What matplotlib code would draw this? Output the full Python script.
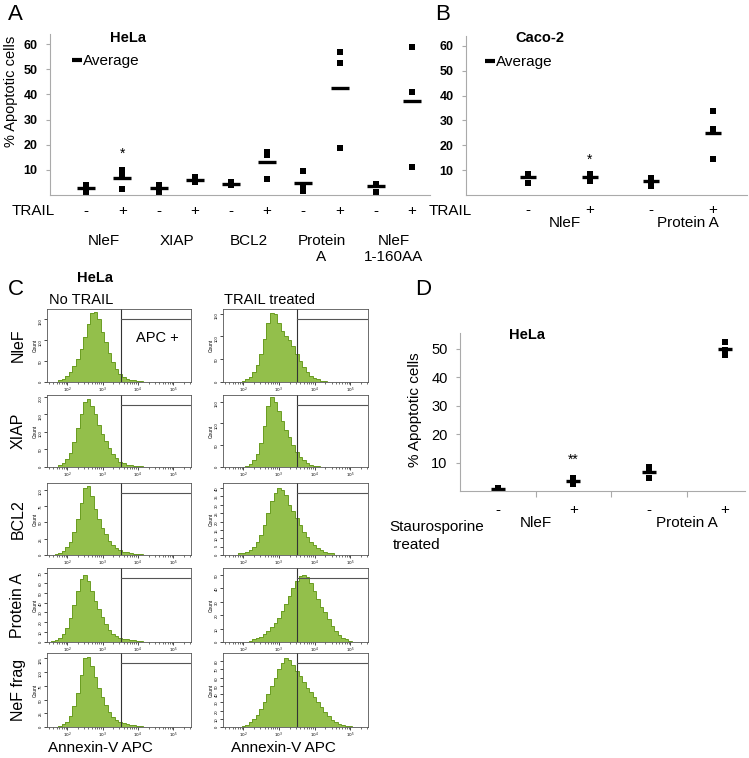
import numpy as np
import matplotlib.pyplot as plt
from matplotlib.lines import Line2D

plt.rcParams['font.family'] = ['Liberation Sans', 'DejaVu Sans']

W, H = 749, 758

# ---- panel A: HeLa, TRAIL ----
a_groups = ['NleF', 'XIAP', 'BCL2', 'Protein\nA', 'NleF\n1-160AA']
a_signs = ['-', '+'] * 5
a_rep1 = [4, 10, 4, 7, 5, 17, 9.5, 57, 4.5, 59]
a_rep2 = [3, 7.5, 3.5, 6, 4.5, 16, 3, 52.5, 4.5, 41]
a_rep3 = [1, 2.5, 1, 5, 4, 6.5, 1.5, 18.5, 1, 11]
a_avg = [2.8, 6.7, 2.9, 6.0, 4.5, 13.2, 4.7, 42.7, 3.4, 37.2]
a_star = [(1, '*', 16.5)]

# ---- panel B: Caco-2, TRAIL ----
b_groups = ['NleF', 'Protein A']
b_signs = ['-', '+', '-', '+']
b_rep1 = [8.5, 8.5, 7, 34]
b_rep2 = [8.5, 8, 6.5, 26.5]
b_rep3 = [5, 5.5, 3.5, 14.5]
b_avg = [7.3, 7.3, 5.7, 25.0]
b_star = [(1, '*', 14)]

# ---- panel D: HeLa, staurosporine ----
d_groups = ['NleF', 'Protein A']
d_signs = ['-', '+', '-', '+']
d_rep1 = [1.0, 4.6, 8.5, 52.5]
d_rep2 = [0.8, 3.5, 7.0, 49.5]
d_rep3 = [0.5, 2.6, 4.5, 48.0]
d_avg = [0.8, 3.5, 6.7, 50.0]
d_star = [(1, '**', 11)]

# ---- panel C: flow histograms (counts per 0.1-decade bin, first bin centre in log10) ----
c_rows = ['NleF', 'XIAP', 'BCL2', 'Protein A', 'NeF frag']
h_nlef_no = [1, 4, 8, 15, 25, 38, 55, 78, 108, 140, 165, 168, 150, 120, 95, 70, 48, 32, 20, 12, 8, 5, 4, 3, 2, 1, 1]
h_xiap_no = [1, 5, 12, 22, 40, 70, 110, 150, 185, 195, 175, 150, 120, 95, 75, 55, 38, 25, 15, 10, 7, 5, 4, 3, 2, 1]
h_bcl2_no = [1, 3, 6, 12, 20, 35, 55, 80, 102, 105, 90, 70, 55, 42, 32, 22, 15, 10, 7, 5, 4, 3, 2, 2, 1]
h_prota_no = [1, 2, 4, 8, 14, 24, 38, 52, 64, 68, 62, 52, 42, 33, 25, 18, 12, 8, 6, 4, 3, 3, 2, 2, 1, 1]
h_frag_no = [2, 5, 10, 20, 38, 62, 95, 125, 128, 112, 92, 72, 55, 40, 28, 18, 12, 9, 7, 5, 4, 3, 2, 1]
h_nlef_tr = [1, 3, 6, 12, 22, 38, 62, 95, 130, 152, 148, 130, 112, 100, 92, 78, 62, 45, 32, 22, 14, 9, 6, 3, 2, 1, 1]
h_xiap_tr = [1, 3, 8, 16, 30, 55, 95, 140, 160, 150, 128, 105, 85, 68, 50, 35, 24, 15, 9, 5, 3, 2, 1]
h_bcl2_tr = [1, 1, 2, 3, 5, 8, 12, 18, 25, 32, 37, 40, 39, 36, 30, 26, 22, 18, 14, 11, 8, 6, 4, 3, 2, 1, 1]
h_prota_tr = [1, 2, 3, 4, 6, 8, 11, 14, 18, 23, 28, 34, 40, 45, 49, 50, 48, 44, 38, 32, 26, 22, 17, 12, 8, 5, 3, 2, 1]
h_frag_tr = [1, 3, 6, 10, 15, 22, 30, 40, 50, 60, 70, 78, 84, 82, 75, 68, 62, 55, 48, 42, 36, 30, 24, 18, 13, 9, 6, 4, 2, 1, 1]
no_trail = [(1.7, h_nlef_no), (1.7, h_xiap_no), (1.7, h_bcl2_no), (1.6, h_prota_no), (1.8, h_frag_no)]
trail = [(1.9, h_nlef_tr), (2.0, h_xiap_tr), (1.9, h_bcl2_tr), (2.2, h_prota_tr), (2.0, h_frag_tr)]
no_ylim = [175, 205, 110, 75, 135]
tr_ylim = [160, 165, 43, 55, 90]
no_ystep = [50, 50, 25, 10, 25]
tr_ystep = [50, 50, 5, 10, 10]
gate_log = 3.52

fig = plt.figure(figsize=(W / 100, H / 100), dpi=100)


def box(l, t, r, b):
    return [l / W, 1 - b / H, (r - l) / W, (b - t) / H]


def ftext(x, y, s, **kw):
    kw.setdefault('ha', 'center')
    kw.setdefault('va', 'center')
    fig.text(x / W, 1 - y / H, s, **kw)


def dot_panel(r, reps, avg, ylim, xlim, ms, avg_ms, stars):
    ax = fig.add_axes(r)
    xs = np.arange(1, len(avg) + 1)
    for rep in reps:
        ax.plot(xs, rep, ls='none', marker='s', ms=ms, mew=0, color='black')
    ax.plot(xs, avg, ls='none', marker='_', ms=avg_ms, mew=2.4, color='black')
    for i, s, y in stars:
        ax.text(xs[i], y, s, ha='center', va='center', fontsize=10)
    ax.set_xlim(*xlim)
    ax.set_ylim(*ylim)
    for side in ['top', 'right']:
        ax.spines[side].set_visible(False)
    for side in ['left', 'bottom']:
        ax.spines[side].set_color('#aaaaaa')
        ax.spines[side].set_linewidth(0.8)
    ax.tick_params(axis='y', length=3, color='#aaaaaa', pad=6)
    ax.set_xticks([])
    return ax, xs


def sign_labels(ax, xs, signs, yfrac, size=11):
    for x, s in zip(xs, signs):
        ax.text(x, yfrac, s, transform=ax.get_xaxis_transform(), ha='center', va='center', fontsize=size)


def avg_legend(ax, x, y):
    h = Line2D([], [], color='black', lw=3, solid_capstyle='butt')
    ax.legend(handles=[h], labels=['Average'], loc='center left',
              bbox_to_anchor=(x / W, 1 - y / H), bbox_transform=fig.transFigure, frameon=False,
              handlelength=0.65, handletextpad=0.1, borderpad=0, borderaxespad=0, fontsize=11)


# ---------- A ----------
axA, xa = dot_panel(box(50, 34, 430, 195), [a_rep1, a_rep2, a_rep3], a_avg, (0, 64), (0, 10.5),
                    3.9, 12.5, a_star)
axA.set_yticks(range(10, 61, 10), labels=[str(v) for v in range(10, 61, 10)], fontweight='bold', fontsize=9)
sign_labels(axA, xa, a_signs, -16 / 161)
for i, g in enumerate(a_groups):
    axA.text(xa[2 * i] + 0.5, -39 / 161, g, transform=axA.get_xaxis_transform(), ha='center', va='top',
             fontsize=11, linespacing=1.2)
ftext(8, 15, 'A', ha='left', fontsize=16)
ftext(128, 38, 'HeLa', fontsize=10.5, fontweight='bold')
ftext(33, 211, 'TRAIL', fontsize=11)
ftext(11, 91, '% Apoptotic cells', rotation=90, fontsize=10.5)
avg_legend(axA, 72, 61)

# ---------- B ----------
axB, xb = dot_panel(box(466, 36, 747, 195), [b_rep1, b_rep2, b_rep3], b_avg, (0, 64), (0, 4.55),
                    3.9, 11, b_star)
axB.set_yticks(range(10, 61, 10), labels=[str(v) for v in range(10, 61, 10)], fontweight='bold', fontsize=9)
sign_labels(axB, xb, b_signs, -15 / 159)
for i, g in enumerate(b_groups):
    axB.text(xb[2 * i] + 0.6, -28 / 159, g, transform=axB.get_xaxis_transform(), ha='center', va='center',
             fontsize=11)
ftext(435, 15, 'B', ha='left', fontsize=16)
ftext(540, 38, 'Caco-2', fontsize=10.5, fontweight='bold')
ftext(450, 211, 'TRAIL', fontsize=11)
avg_legend(axB, 485, 62)

# ---------- D ----------
axD, xd = dot_panel(box(460, 333, 745, 491), [d_rep1, d_rep2, d_rep3], d_avg, (0, 55.6), (0.5, 4.27),
                    4.5, 10.5, d_star)
axD.set_yticks(range(10, 51, 10), labels=[str(v) for v in range(10, 51, 10)], fontsize=10.5)
axD.set_xticks([1.5, 2.5, 3.5], labels=['', '', ''])
axD.tick_params(axis='x', length=4, color='#aaaaaa')
sign_labels(axD, xd, d_signs, -19 / 158)
for i, g in enumerate(d_groups):
    axD.text(xd[2 * i] + 0.5, -32 / 158, g, transform=axD.get_xaxis_transform(), ha='center', va='center',
             fontsize=11)
ftext(415, 290, 'D', ha='left', fontsize=16)
ftext(527, 335, 'HeLa', fontsize=10.5, fontweight='bold')
ftext(415, 410, '% Apoptotic cells', rotation=90, fontsize=11)
ftext(389, 527, 'Staurosporine', ha='left', fontsize=11)
ftext(393, 545, 'treated', ha='left', fontsize=11)

# ---------- C ----------
row_tb = [(309, 382), (395, 467), (483, 555), (568, 642), (653, 727)]
col_lr = [(47, 191), (223, 368)]
xlo, xhi = 1.43, 5.5
fill_c, edge_c = '#93bf4b', '#6a9c22'
for ci, (data, ylims, steps) in enumerate([(no_trail, no_ylim, no_ystep), (trail, tr_ylim, tr_ystep)]):
    l, r = col_lr[ci]
    for ri, (t, b) in enumerate(row_tb):
        ax = fig.add_axes(box(l, t, r, b))
        start, counts = data[ri]
        edges = 10 ** (start - 0.05 + 0.1 * np.arange(len(counts) + 1))
        ax.stairs(counts, edges, fill=True, color=fill_c, lw=0)
        ax.stairs(counts, edges, color=edge_c, lw=0.7)
        ax.set_xscale('log')
        ax.set_xlim(10 ** xlo, 10 ** xhi)
        ax.set_ylim(0, ylims[ri])
        gfrac = (gate_log - xlo) / (xhi - xlo)
        ax.axvline(10 ** gate_log, color='#333333', lw=0.8)
        ax.plot([gfrac, 1], [0.86, 0.86], transform=ax.transAxes, color='#555555', lw=0.8)
        ax.set_xticks([1e2, 1e3, 1e4, 1e5], labels=['$10^2$', '$10^3$', '$10^4$', '$10^5$'])
        ax.set_yticks(np.arange(0, ylims[ri], steps[ri]))
        ax.tick_params(labelsize=3, length=2, width=0.5, pad=1)
        ax.tick_params(axis='y', labelrotation=90)
        ax.tick_params(which='minor', length=1.2, width=0.4)
        ax.set_ylabel('Count', fontsize=3.5, labelpad=1)
        for sp in ax.spines.values():
            sp.set_color('#555555')
            sp.set_linewidth(0.6)

for ri, (t, b) in enumerate(row_tb):
    ftext(18, (t + b) / 2, c_rows[ri], rotation=90, fontsize=11.5)
ftext(8, 290, 'C', ha='left', fontsize=16)
ftext(95, 278, 'HeLa', fontsize=10.5, fontweight='bold')
ftext(81, 300, 'No TRAIL', fontsize=10.5)
ftext(270, 300, 'TRAIL treated', fontsize=10.5)
ftext(157, 338, 'APC +', fontsize=10.5)
ftext(100, 748, 'Annexin-V APC', fontsize=11)
ftext(283, 748, 'Annexin-V APC', fontsize=11)

fig.savefig('out.png', dpi=100)
